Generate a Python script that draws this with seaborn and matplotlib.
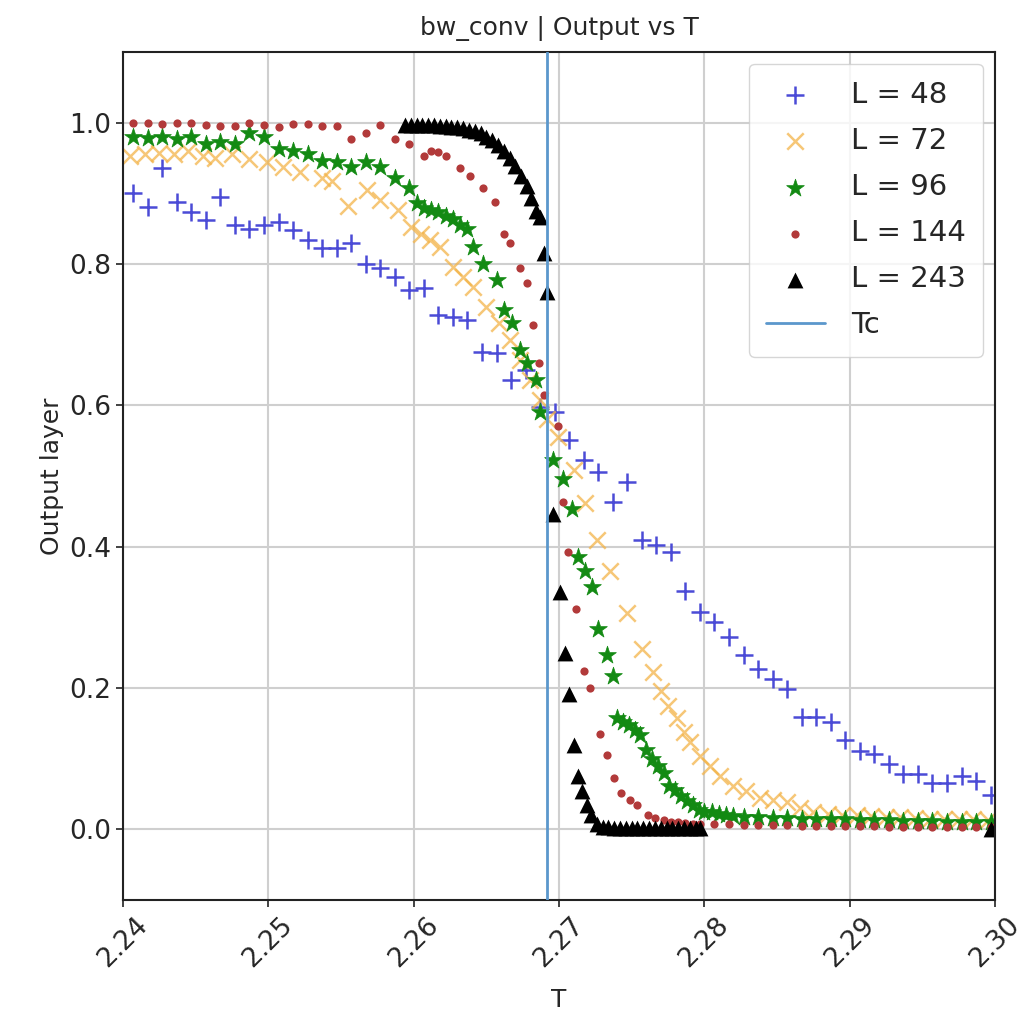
import numpy as np
import pandas as pd
import matplotlib
matplotlib.use("Agg")
import matplotlib.pyplot as plt
import seaborn as sns

# ---------------- data ----------------
T48 = [2.2407, 2.2417, 2.2427, 2.2437, 2.2447, 2.2457, 2.2467, 2.2477, 2.2487, 2.2497,
       2.2507, 2.2517, 2.2527, 2.2537, 2.2547, 2.2557, 2.2567, 2.2577, 2.2587, 2.2597,
       2.2607, 2.2617, 2.2627, 2.2637, 2.2647, 2.2657, 2.2667, 2.2677, 2.2687, 2.2697,
       2.2707, 2.2717, 2.2727, 2.2737, 2.2747, 2.2757, 2.2767, 2.2777, 2.2787, 2.2797,
       2.2807, 2.2817, 2.2827, 2.2837, 2.2847, 2.2857, 2.2867, 2.2877, 2.2887, 2.2897,
       2.2907, 2.2917, 2.2927, 2.2937, 2.2947, 2.2957, 2.2967, 2.2977, 2.2987, 2.2997]
V48 = [0.900, 0.880, 0.935, 0.887, 0.873, 0.862, 0.894, 0.855, 0.850, 0.855,
       0.859, 0.848, 0.834, 0.822, 0.822, 0.829, 0.800, 0.794, 0.781, 0.763,
       0.766, 0.728, 0.725, 0.721, 0.676, 0.674, 0.636, 0.650, 0.598, 0.590,
       0.551, 0.523, 0.505, 0.463, 0.491, 0.410, 0.403, 0.392, 0.337, 0.307,
       0.293, 0.272, 0.246, 0.227, 0.213, 0.199, 0.159, 0.159, 0.152, 0.126,
       0.111, 0.107, 0.093, 0.079, 0.079, 0.065, 0.065, 0.075, 0.068, 0.048]

T72 = [2.2405, 2.2415, 2.2425, 2.2435, 2.2445, 2.2455, 2.2463, 2.2475, 2.2487, 2.2499,
       2.2510, 2.2522, 2.2537, 2.2544, 2.2555, 2.2568, 2.2577, 2.2589, 2.2598, 2.2605,
       2.2611, 2.2618, 2.2627, 2.2634, 2.2641, 2.2650, 2.2659, 2.2666, 2.2673, 2.2680,
       2.2687, 2.2692, 2.2699, 2.2710, 2.2718, 2.2726, 2.2735, 2.2747, 2.2757, 2.2765,
       2.2770, 2.2775, 2.2781, 2.2786, 2.2790, 2.2797, 2.2804, 2.2811, 2.2820, 2.2829,
       2.2838, 2.2847, 2.2857, 2.2866, 2.2875, 2.2885, 2.2895, 2.2905, 2.2915, 2.2925,
       2.2935, 2.2945, 2.2955, 2.2965, 2.2975, 2.2985, 2.2995]
V72 = [0.953, 0.955, 0.957, 0.955, 0.960, 0.953, 0.950, 0.955, 0.948, 0.944,
       0.937, 0.930, 0.922, 0.918, 0.882, 0.904, 0.890, 0.876, 0.852, 0.843,
       0.834, 0.824, 0.795, 0.781, 0.767, 0.739, 0.716, 0.692, 0.664, 0.636,
       0.608, 0.580, 0.555, 0.508, 0.462, 0.410, 0.365, 0.306, 0.255, 0.222,
       0.196, 0.175, 0.157, 0.138, 0.124, 0.104, 0.090, 0.076, 0.062, 0.054,
       0.044, 0.041, 0.039, 0.030, 0.025, 0.022, 0.021, 0.020, 0.019, 0.018,
       0.017, 0.016, 0.015, 0.015, 0.014, 0.014, 0.013]

T96 = [2.2407, 2.2417, 2.2427, 2.2437, 2.2447, 2.2457, 2.2467, 2.2477, 2.2487, 2.2497,
       2.2507, 2.2517, 2.2527, 2.2537, 2.2547, 2.2557, 2.2567, 2.2577, 2.2587, 2.2597,
       2.2602, 2.2607, 2.2612, 2.2617, 2.2622, 2.2627, 2.2632, 2.2637, 2.2641, 2.2648,
       2.2657, 2.2662, 2.2668, 2.2673, 2.2678, 2.2684, 2.2687, 2.2696, 2.2703, 2.2709,
       2.2713, 2.2718, 2.2723, 2.2727, 2.2733, 2.2737, 2.2740, 2.2744, 2.2748, 2.2752,
       2.2756, 2.2760, 2.2764, 2.2768, 2.2772, 2.2776, 2.2780, 2.2784, 2.2788, 2.2792,
       2.2796, 2.2800, 2.2805, 2.2810, 2.2815, 2.2820,
       2.2827, 2.2837, 2.2847, 2.2857, 2.2867, 2.2877, 2.2887, 2.2897, 2.2907, 2.2917,
       2.2927, 2.2937, 2.2947, 2.2957, 2.2967, 2.2977, 2.2987, 2.2997]
V96 = [0.980, 0.978, 0.980, 0.977, 0.979, 0.970, 0.972, 0.970, 0.985, 0.979,
       0.963, 0.960, 0.956, 0.946, 0.944, 0.937, 0.944, 0.937, 0.921, 0.908,
       0.886, 0.879, 0.876, 0.873, 0.868, 0.863, 0.855, 0.850, 0.824, 0.800,
       0.777, 0.735, 0.716, 0.678, 0.660, 0.636, 0.590, 0.523, 0.495, 0.453,
       0.386, 0.365, 0.343, 0.283, 0.246, 0.217, 0.157, 0.152, 0.147, 0.140,
       0.134, 0.112, 0.100, 0.090, 0.080, 0.062, 0.055, 0.047, 0.040, 0.034,
       0.027, 0.025, 0.024, 0.022, 0.020, 0.019,
       0.018, 0.017, 0.016, 0.016, 0.015, 0.015, 0.014, 0.014, 0.013, 0.013,
       0.013, 0.012, 0.012, 0.012, 0.011, 0.011, 0.011, 0.010]

T144 = [2.2407, 2.2417, 2.2427, 2.2437, 2.2447, 2.2457, 2.2467, 2.2477, 2.2487, 2.2497,
        2.2507, 2.2517, 2.2527, 2.2537, 2.2547, 2.2557, 2.2567, 2.2577, 2.2587, 2.2597,
        2.2607, 2.2612, 2.2617, 2.2622, 2.2632, 2.2639, 2.2648, 2.2656, 2.2662, 2.2666,
        2.2673, 2.2678, 2.2682, 2.2686, 2.2690, 2.2699, 2.2703, 2.2706, 2.2712, 2.2717,
        2.2721, 2.2728, 2.2733, 2.2738, 2.2743, 2.2749, 2.2754, 2.2761, 2.2766, 2.2772,
        2.2777, 2.2782, 2.2787, 2.2792, 2.2797,
        2.2807, 2.2817, 2.2827, 2.2837, 2.2847, 2.2857, 2.2867, 2.2877, 2.2887, 2.2897,
        2.2907, 2.2917, 2.2927, 2.2937, 2.2947, 2.2957, 2.2967, 2.2977, 2.2987, 2.2997]
V144 = [0.999, 0.999, 0.998, 1.000, 1.000, 0.996, 0.995, 0.995, 0.999, 0.996,
        0.993, 0.998, 0.998, 0.995, 0.995, 0.977, 0.985, 0.996, 0.977, 0.970,
        0.953, 0.960, 0.958, 0.952, 0.935, 0.925, 0.908, 0.887, 0.843, 0.829,
        0.794, 0.773, 0.714, 0.660, 0.615, 0.570, 0.463, 0.392, 0.312, 0.224,
        0.200, 0.135, 0.105, 0.072, 0.051, 0.041, 0.034, 0.020, 0.016, 0.013,
        0.011, 0.010, 0.009, 0.008, 0.008,
        0.007, 0.007, 0.006, 0.006, 0.006, 0.006, 0.005, 0.005, 0.005, 0.005,
        0.005, 0.005, 0.004, 0.004, 0.004, 0.004, 0.004, 0.004, 0.004, 0.004]

T243 = [2.2594, 2.2598, 2.2602, 2.2606, 2.2610, 2.2614, 2.2618, 2.2622, 2.2626, 2.2630,
        2.2634, 2.2638, 2.2642, 2.2646, 2.2650, 2.2654, 2.2658, 2.2662, 2.2666, 2.2670,
        2.2674, 2.2678, 2.2681, 2.2684, 2.2687, 2.2690, 2.2692, 2.2696, 2.2701, 2.2704,
        2.2707, 2.2710, 2.2713, 2.2716, 2.2719, 2.2722, 2.2726, 2.2730, 2.2734, 2.2738,
        2.2742, 2.2746, 2.2750, 2.2754, 2.2758, 2.2762, 2.2766, 2.2770, 2.2774, 2.2778,
        2.2782, 2.2786, 2.2790, 2.2794, 2.2797, 2.2997]
V243 = [0.996, 0.997, 0.997, 0.996, 0.997, 0.996, 0.995, 0.995, 0.994, 0.993,
        0.992, 0.990, 0.988, 0.985, 0.980, 0.975, 0.968, 0.960, 0.950, 0.938,
        0.925, 0.910, 0.893, 0.875, 0.866, 0.815, 0.760, 0.446, 0.336, 0.250,
        0.192, 0.120, 0.076, 0.054, 0.034, 0.020, 0.008, 0.004, 0.003, 0.002,
        0.002, 0.002, 0.002, 0.002, 0.002, 0.002, 0.002, 0.002, 0.002, 0.002,
        0.002, 0.002, 0.002, 0.002, 0.002, 0.001]

TC = 2.269185
XTICKS = [2.24, 2.25, 2.26, 2.27, 2.28, 2.29, 2.30]
XTICKLABELS = ["2.24", "2.25", "2.26", "2.27", "2.28", "2.29", "2.30"]
YTICKS = [0.0, 0.2, 0.4, 0.6, 0.8, 1.0]

# ---------------- style ----------------
sns.set_style("whitegrid", {"axes.edgecolor": "#222222", "grid.color": "#cfcfcf",
                            "xtick.bottom": True, "ytick.left": True})
plt.rcParams["font.family"] = ["DejaVu Sans"]

fig = plt.figure(figsize=(10.27, 10.17), dpi=100)
ax = fig.add_axes([0.1198, 0.115, 0.849, 0.834])

series = [
    ("L = 48", T48, V48, "+", "#4b4bd6", 180, 1.8, 1.0),
    ("L = 72", T72, V72, "x", "#f3b44a", 140, 1.8, 0.75),
    ("L = 96", T96, V96, "*", "#138a13", 180, 0.5, 1.0),
    ("L = 144", T144, V144, ".", "#b23a3a", 140, 0.0, 1.0),
    ("L = 243", T243, V243, "^", "#000000", 130, 0.0, 1.0),
]

for label, tx, vy, mk, col, s, lw, a in series:
    df = pd.DataFrame({"T": tx, "out": vy})
    if mk in ("+", "x"):
        sns.scatterplot(data=df, x="T", y="out", marker=mk, color=col, s=s,
                        linewidth=lw, alpha=a, label=label, ax=ax)
    else:
        sns.scatterplot(data=df, x="T", y="out", marker=mk, color=col, s=s,
                        edgecolor=col, linewidth=lw, alpha=a, label=label, ax=ax)

ax.axvline(TC, color="#5b97cc", lw=2.0, label="Tc", zorder=5)

ax.set_xlim(2.24, 2.30)
ax.set_ylim(-0.1, 1.1)
ax.set_xticks(XTICKS)
ax.set_xticklabels(XTICKLABELS, rotation=45)
ax.set_yticks(YTICKS)
ax.tick_params(axis="both", labelsize=19, length=5, width=1.2, color="#222222")
ax.grid(True, color="#cfcfcf", lw=1.5)
for sp in ax.spines.values():
    sp.set_linewidth(1.5)

ax.set_xlabel("T", fontsize=18, labelpad=12)
ax.set_ylabel("Output layer", fontsize=18)
ax.set_title("bw_conv | Output vs T", fontsize=18, pad=12)

leg = ax.legend(loc="upper right", fontsize=21, frameon=True, markerscale=1.0,
                labelspacing=0.62, borderpad=0.6, handlelength=2.0,
                handletextpad=0.9, borderaxespad=0.4)
leg.get_frame().set_edgecolor("#cccccc")

fig.savefig("out.png", dpi=100)
